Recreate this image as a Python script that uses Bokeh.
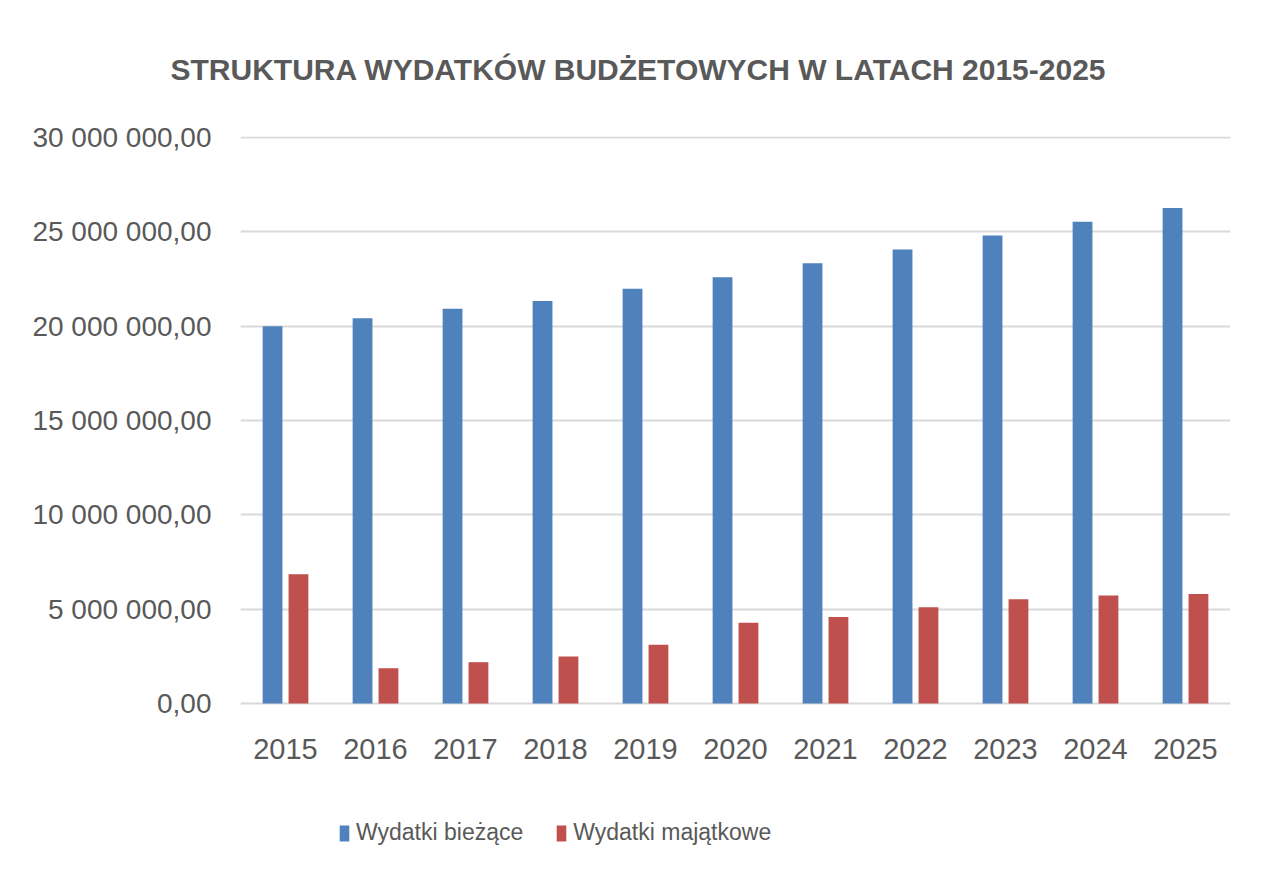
from bokeh.plotting import figure
from bokeh.models import (FactorRange, Range1d, FixedTicker, CustomJSTickFormatter,
                          ColumnDataSource, Legend, LegendItem, LabelSet)
from bokeh.core.properties import value
from bokeh.transform import dodge
from bokeh.embed import file_html
from bokeh.resources import INLINE

years = ["2015", "2016", "2017", "2018", "2019", "2020", "2021", "2022", "2023", "2024", "2025"]
wydatki_biezace = [20.00e6, 20.42e6, 20.93e6, 21.34e6, 21.98e6, 22.59e6, 23.33e6, 24.06e6, 24.80e6, 25.53e6, 26.27e6]
wydatki_majatkowe = [6.85e6, 1.87e6, 2.19e6, 2.49e6, 3.11e6, 4.28e6, 4.59e6, 5.10e6, 5.53e6, 5.72e6, 5.81e6]
series_names = ["Wydatki bieżące", "Wydatki majątkowe"]
y_ticks = [0, 5e6, 10e6, 15e6, 20e6, 25e6, 30e6]
title_text = "STRUKTURA WYDATKÓW BUDŻETOWYCH W LATACH 2015-2025"

FONT = "Liberation Sans"
TXT = "#595959"

src = ColumnDataSource(dict(year=years, b=wydatki_biezace, m=wydatki_majatkowe,
                            base=[0] * len(years)))

# frame extends below the zero line so the category labels and legend live inside it
p = figure(x_range=FactorRange(*years, range_padding=0), y_range=Range1d(-8.85e6, 30.053e6),
           width=1252, height=872, output_backend="svg", toolbar_location=None,
           x_axis_location=None, title=title_text + "\n ")
p.min_border_left = 240
p.min_border_right = 22
p.min_border_top = 136
p.min_border_bottom = 2

p.title.align = "left"
p.title.text_font = FONT
p.title.text_font_size = "30px"
p.title.text_font_style = "bold"
p.title.text_color = TXT
p.title.offset = -70
p.title.standoff = 36

r1 = p.vbar(x=dodge("year", -0.144, range=p.x_range), top="b", width=0.22, source=src,
            fill_color="#4F81BD", line_color=None)
r2 = p.vbar(x=dodge("year", 0.144, range=p.x_range), top="m", width=0.22, source=src,
            fill_color="#C0504D", line_color=None)

p.outline_line_color = None
p.border_fill_color = "white"
p.background_fill_color = "white"

p.xgrid.visible = False
p.ygrid.grid_line_color = "#d9d9d9"
p.ygrid.grid_line_width = 2
p.yaxis.ticker = FixedTicker(ticks=y_ticks)
p.yaxis.formatter = CustomJSTickFormatter(code="""
    const s = tick.toFixed(2).split('.');
    const intp = s[0].replace(/\\B(?=(\\d{3})+(?!\\d))/g, ' ');
    return intp + ',' + s[1];
""")
p.yaxis.axis_line_color = None
p.yaxis.major_tick_line_color = None
p.yaxis.minor_tick_line_color = None
p.yaxis.major_label_standoff = 23
p.yaxis.major_label_text_font = FONT
p.yaxis.major_label_text_font_size = "28px"
p.yaxis.major_label_text_color = TXT

cat_labels = LabelSet(x="year", y="base", text="year", source=src, y_offset=-45,
                      text_align="center", text_baseline="middle",
                      text_font=value(FONT), text_font_size=value("29px"),
                      text_color=value(TXT))
p.add_layout(cat_labels)

legend = Legend(items=[LegendItem(label=series_names[0], renderers=[r1]),
                       LegendItem(label=series_names[1], renderers=[r2])],
                orientation="horizontal", location=(98, 24))
legend.label_text_font = FONT
legend.label_text_font_size = "23px"
legend.label_text_color = TXT
legend.glyph_width = 12
legend.glyph_height = 20
legend.spacing = 32
legend.label_standoff = 6
legend.padding = 10
legend.margin = 0
legend.border_line_color = None
legend.background_fill_alpha = 0
p.add_layout(legend, "center")

open("out.html", "w").write(file_html(p, INLINE))
